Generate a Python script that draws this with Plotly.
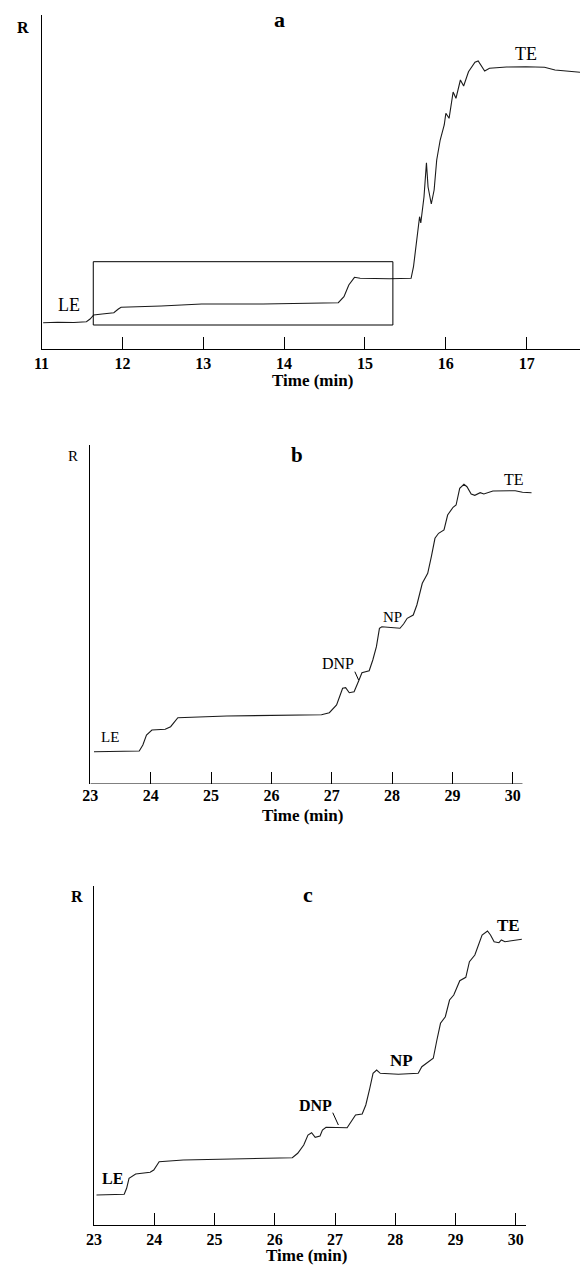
import plotly.graph_objects as go

# ---------------- data ----------------
a_time = [11.02, 11.20, 11.40, 11.555, 11.60, 11.645, 11.75, 11.894, 11.95, 11.984,
          12.48, 12.98, 13.74, 14.30, 14.67, 14.74, 14.80, 14.87, 14.94, 15.30,
          15.57, 15.60, 15.64, 15.675, 15.69, 15.73, 15.76, 15.78, 15.82, 15.855,
          15.887, 15.93, 15.98, 16.00, 16.04, 16.09, 16.125, 16.18, 16.22, 16.28,
          16.36, 16.40, 16.48, 16.54, 16.75, 16.99, 17.22, 17.35, 17.659]
a_signal = [26.3, 26.8, 26.5, 27.3, 30, 34, 35, 36.3, 40, 41.7,
            43, 45, 45, 45.5, 46.3, 52.3, 64, 71.7, 70.7, 70.3,
            70.7, 82.3, 109, 132.3, 126, 152.3, 186.3, 162, 145, 159,
            189, 209, 224, 235.7, 230.7, 257, 250.7, 269, 263, 277.3,
            286.7, 288, 278, 280.7, 282, 282.3, 281.7, 279, 276.7]

b_time = [23.06, 23.81, 23.87, 23.93, 24.02, 24.24, 24.33, 24.39, 24.45, 25.26,
          26.83, 26.96, 27.08, 27.18, 27.23, 27.29, 27.37, 27.44, 27.50, 27.62,
          27.68, 27.74, 27.79, 27.83, 28.13, 28.19, 28.25, 28.35, 28.41, 28.50,
          28.59, 28.65, 28.71, 28.77, 28.86, 28.92, 29.01, 29.06, 29.12, 29.19,
          29.24, 29.31, 29.37, 29.46, 29.52, 29.67, 30.04, 30.16, 30.31]
b_signal = [32.3, 33, 39, 49, 54, 54.7, 57.3, 62.3, 66.3, 68,
            69.3, 71.3, 79, 95.7, 96.3, 91.3, 92.3, 102.3, 111.3, 113.3,
            124, 137.3, 155.7, 157.3, 155.7, 160, 165.7, 169, 179, 200.7,
            210.7, 227.3, 245.7, 250.7, 254, 269, 276.7, 279, 295.7, 299.7,
            297.3, 290, 288.7, 291.3, 290, 293, 293.3, 291.7, 291.3]

c_time = [23.04, 23.50, 23.54, 23.58, 23.69, 23.93, 23.99, 24.08, 24.48, 26.29,
          26.38, 26.48, 26.55, 26.61, 26.67, 26.75, 26.79, 26.85, 27.20, 27.26,
          27.34, 27.45, 27.51, 27.57, 27.63, 27.69, 27.75, 28.05, 28.38, 28.44,
          28.53, 28.63, 28.69, 28.75, 28.83, 28.90, 28.97, 29.07, 29.17, 29.23,
          29.32, 29.38, 29.44, 29.53, 29.58, 29.64, 29.72, 29.76, 29.82, 30.10]
c_signal = [30, 30.7, 36.7, 46.7, 51, 52.7, 55, 63.3, 65, 67.3,
            71.7, 80, 90, 92.3, 87.7, 89, 95, 97.7, 97.3, 103.3,
            110, 111, 120, 135, 151.7, 155, 151.7, 150.7, 151.7, 158.3,
            162.3, 166.7, 185, 201.7, 208.3, 225, 230, 244.3, 247.7, 263.3,
            270, 280, 290, 294, 290, 283.3, 282.3, 285, 283.3, 285.7]

a_ticks = [11, 12, 13, 14, 15, 16, 17]
bc_ticks = [23, 24, 25, 26, 27, 28, 29, 30]

# boxed region in panel a (time, signal)
box_time = [11.64, 15.345]
box_signal = [24, 87.3]

# ---------------- layout helpers ----------------
W, H = 580, 1266
FONT = "Liberation Serif"


def px(x):
    return x / W


def py(y):
    return 1 - y / H


fig = go.Figure()
line_style = dict(color="#1a1a1a", width=1.1)
fig.add_trace(go.Scatter(x=a_time, y=a_signal, mode="lines", line=line_style,
                         xaxis="x", yaxis="y", hoverinfo="skip"))
fig.add_trace(go.Scatter(x=b_time, y=b_signal, mode="lines", line=line_style,
                         xaxis="x2", yaxis="y2", hoverinfo="skip"))
fig.add_trace(go.Scatter(x=c_time, y=c_signal, mode="lines", line=line_style,
                         xaxis="x3", yaxis="y3", hoverinfo="skip"))

tickfont = dict(family=FONT, size=16, color="black", weight="bold")


def xaxis(domain, rng, ticks, anchor, showline=True):
    return dict(domain=domain, range=rng, anchor=anchor, tickvals=ticks,
                ticktext=[str(t) for t in ticks], ticks="inside", ticklen=12,
                tickwidth=1, tickcolor="black", showline=showline,
                linecolor="black", linewidth=1, showgrid=False, zeroline=False,
                tickfont=tickfont, fixedrange=True)


def yaxis(domain, rng, anchor):
    return dict(domain=domain, range=rng, anchor=anchor, showline=True,
                linecolor="black", linewidth=1, showgrid=False, zeroline=False,
                showticklabels=False, ticks="", fixedrange=True)


fig.update_layout(
    width=W, height=H, margin=dict(l=0, r=0, t=0, b=0),
    paper_bgcolor="white", plot_bgcolor="white", showlegend=False,
    xaxis=xaxis([px(34), 1.0], [11, 17.659], a_ticks, "y"),
    yaxis=yaxis([py(349), py(15)], [0, 334], "x"),
    xaxis2=xaxis([px(83.5), px(533.3)], [23, 30.35], bc_ticks, "y2", showline=False),
    yaxis2=yaxis([py(784), py(445)], [0, 339], "x2"),
    xaxis3=xaxis([px(87.3), px(525.3)], [23, 30.17], bc_ticks, "y3"),
    yaxis3=yaxis([py(1225), py(886)], [0, 339], "x3"),
)

shapes = [
    dict(type="rect", xref="x", yref="y", x0=box_time[0], x1=box_time[1],
         y0=box_signal[0], y1=box_signal[1], line=dict(color="black", width=1)),
    dict(type="line", xref="x2", yref="y2", x0=23, x1=30.16, y0=0, y1=0,
         line=dict(color="black", width=1)),
    dict(type="line", xref="paper", yref="paper", x0=px(351.7), y0=py(671.7),
         x1=px(355.5), y1=py(680), line=dict(color="black", width=1)),
    dict(type="line", xref="paper", yref="paper", x0=px(329.3), y0=py(1112.7),
         x1=px(335), y1=py(1125), line=dict(color="black", width=1)),
]
fig.update_layout(shapes=shapes)


def label(text, x, y, size, bold=False):
    t = f"<b>{text}</b>" if bold else text
    fig.add_annotation(text=t, x=px(x), y=py(y), xref="paper", yref="paper",
                       xanchor="center", yanchor="middle", showarrow=False,
                       font=dict(family=FONT, size=size, color="black"))


# panel a
label("R", 15.7, 27.9, 16, True)
label("a", 275.5, 19.2, 22, True)
label("LE", 61.7, 304.6, 18)
label("TE", 525.7, 53.9, 18)
label("Time (min)", 309, 380.9, 17, True)
# panel b
label("R", 65.9, 455.6, 15)
label("b", 293.4, 455.2, 21, True)
label("LE", 103.6, 736.6, 15)
label("DNP", 334.8, 663.6, 16)
label("NP", 389.7, 616.6, 15)
label("TE", 512.8, 479.6, 16)
label("Time (min)", 299, 815.9, 17, True)
# panel c
label("R", 70.3, 896.9, 16, True)
label("c", 304.1, 894.8, 22, True)
label("LE", 106.4, 1178.6, 16, True)
label("DNP", 312.2, 1105.3, 16, True)
label("NP", 398.7, 1060.9, 17, True)
label("TE", 507.6, 925.9, 17, True)
label("Time (min)", 302.3, 1255.5, 17, True)

fig.write_html("out.html")
